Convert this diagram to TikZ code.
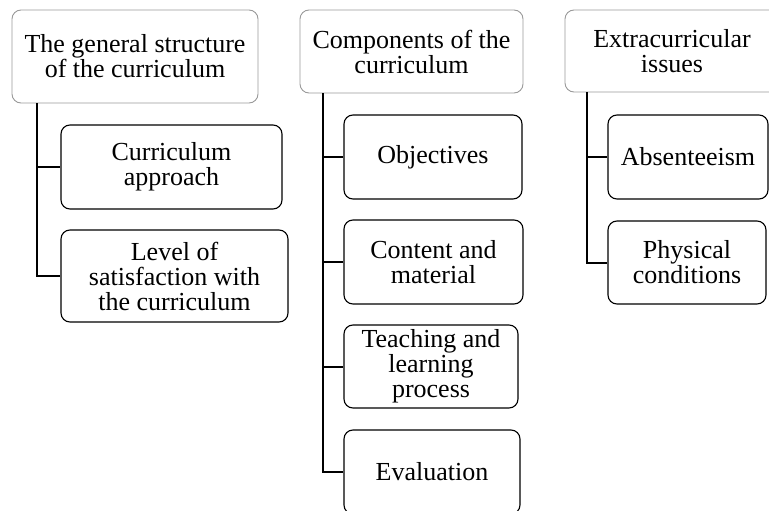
\documentclass[tikz,border=0pt]{standalone}
\usepackage{fontspec}
\setmainfont{Liberation Serif}
\begin{document}
\begin{tikzpicture}[x=1pt,y=-1pt,
  box/.style={draw, rounded corners=9pt, align=center, inner sep=0pt,
    font=\fontsize{26}{25}\selectfont},
  parentbox/.style={box, draw=black!40, line width=0.9pt},
  childbox/.style={box, draw=black, line width=1.1pt},
  conn/.style={draw=black, line width=2pt}]
\useasboundingbox (0,0) rectangle (769,511);
\node[parentbox, minimum width=246pt, minimum height=93pt] (P1) at (135,56.5) {The general structure\\of the curriculum};
\node[parentbox, minimum width=223pt, minimum height=83pt] (P2) at (411.5,51.5) {Components of the\\curriculum};
\node[parentbox, minimum width=214pt, minimum height=82pt] (P3) at (672,51) {Extracurricular\\issues};

\node[childbox, minimum width=221pt, minimum height=84pt] (C11) at (171.5,167) {Curriculum\\approach};
\node[childbox, minimum width=227pt, minimum height=92pt] (C12) at (174.5,276) {Level of\\satisfaction with\\the curriculum};

\node[childbox, minimum width=178pt, minimum height=84pt] (C21) at (433,157) {Objectives};
\node[childbox, minimum width=179pt, minimum height=84pt] (C22) at (433.5,262) {Content and\\material};
\node[childbox, minimum width=174pt, minimum height=83pt] (C23) at (431,366.5) {Teaching and\\learning\\process};
\node[childbox, minimum width=176pt, minimum height=84pt] (C24) at (432,472) {Evaluation};

\node[childbox, minimum width=160pt, minimum height=84pt] (C31) at (688,157) {Absenteeism};
\node[childbox, minimum width=158pt, minimum height=83pt] (C32) at (687,262.5) {Physical\\conditions};

\coordinate (t1) at (37,0);
\coordinate (t2) at (323,0);
\coordinate (t3) at (587,0);

\draw[conn] (P1.south -| t1) |- (C12.west);
\draw[conn] (C11.west -| t1) -- (C11.west);

\draw[conn] (P2.south -| t2) |- (C24.west);
\draw[conn] (C21.west -| t2) -- (C21.west);
\draw[conn] (C22.west -| t2) -- (C22.west);
\draw[conn] (C23.west -| t2) -- (C23.west);

\draw[conn] (P3.south -| t3) |- (C32.west);
\draw[conn] (C31.west -| t3) -- (C31.west);
\end{tikzpicture}
\end{document}
